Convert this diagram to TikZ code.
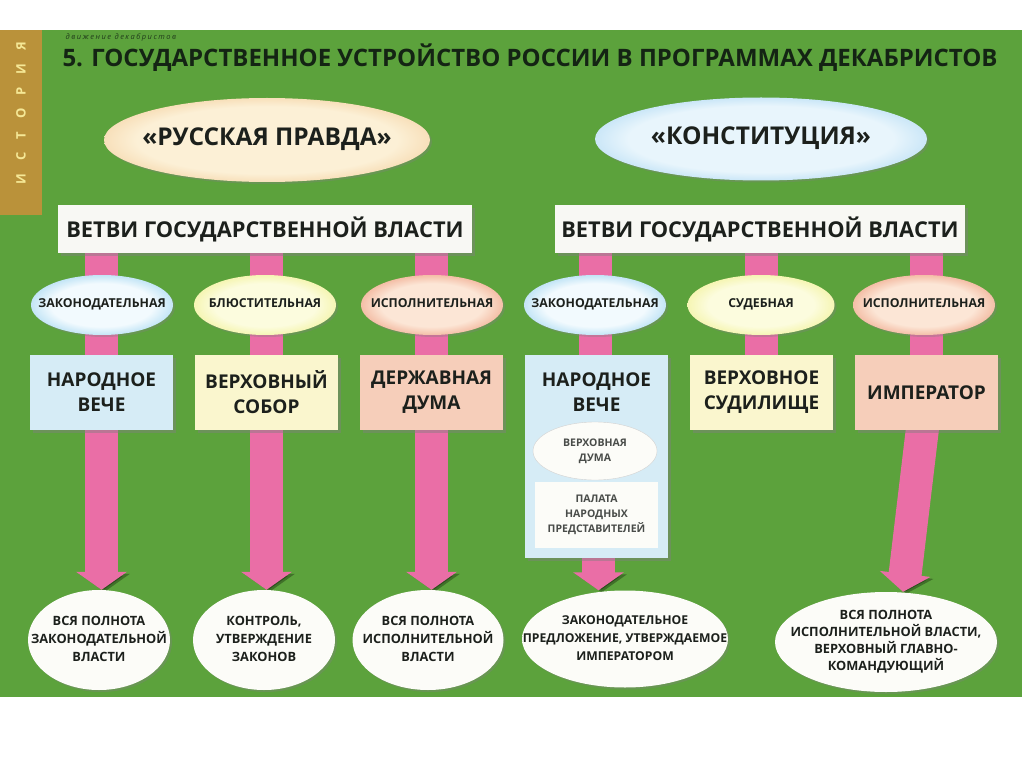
\documentclass[tikz,border=0pt]{standalone}
\usepackage{fontspec}
\setmainfont{Open Sans}
\usetikzlibrary{shapes.geometric,arrows.meta,shadows,calc}
\definecolor{bggreen}{RGB}{92,162,60}
\definecolor{gold}{RGB}{186,146,58}
\definecolor{goldtxt}{RGB}{245,232,150}
\definecolor{ink}{RGB}{28,32,28}
\definecolor{titleink}{RGB}{20,36,20}
\definecolor{barpink}{RGB}{234,110,166}
\definecolor{boxblue}{RGB}{214,236,246}
\definecolor{boxyellow}{RGB}{250,246,206}
\definecolor{boxpeach}{RGB}{246,206,186}
\definecolor{boxwhite}{RGB}{248,248,244}
\definecolor{pravI}{RGB}{252,240,214}
\definecolor{pravO}{RGB}{238,188,126}
\definecolor{konI}{RGB}{232,245,252}
\definecolor{konO}{RGB}{140,200,238}
\definecolor{sbI}{RGB}{242,250,254}
\definecolor{sbO}{RGB}{130,200,235}
\definecolor{syI}{RGB}{252,252,222}
\definecolor{syO}{RGB}{236,236,120}
\definecolor{ssI}{RGB}{252,230,214}
\definecolor{ssO}{RGB}{232,135,100}
\definecolor{swI}{RGB}{252,252,248}
\definecolor{swO}{RGB}{222,224,214}
\pgfdeclareradialshading{shprav}{\pgfpointorigin}{color(0bp)=(pravI); color(20bp)=(pravI); color(36bp)=(pravO); color(50bp)=(pravO)}
\pgfdeclareradialshading{shkon}{\pgfpointorigin}{color(0bp)=(konI); color(20bp)=(konI); color(36bp)=(konO); color(50bp)=(konO)}
\pgfdeclareradialshading{shblue}{\pgfpointorigin}{color(0bp)=(sbI); color(18bp)=(sbI); color(35bp)=(sbO); color(50bp)=(sbO)}
\pgfdeclareradialshading{shyel}{\pgfpointorigin}{color(0bp)=(syI); color(18bp)=(syI); color(35bp)=(syO); color(50bp)=(syO)}
\pgfdeclareradialshading{shsal}{\pgfpointorigin}{color(0bp)=(ssI); color(18bp)=(ssI); color(35bp)=(ssO); color(50bp)=(ssO)}
\pgfdeclareradialshading{shwhite}{\pgfpointorigin}{color(0bp)=(swI); color(25bp)=(swI); color(36bp)=(swO); color(50bp)=(swO)}
\newcommand\fsz[2]{\fontsize{#1}{#2}\selectfont}
\newcommand\zw[1]{\makebox[0pt]{\begin{tabular}{@{}c@{}}#1\end{tabular}}}
\pgfdeclarelayer{bg}
\pgfdeclarelayer{mid}
\pgfsetlayers{bg,mid,main}
\begin{document}
\begin{tikzpicture}[x=1pt,y=-1pt,
  oval/.style={ellipse, inner sep=0pt, align=center, text=ink, font=\bfseries,
    drop shadow={shadow xshift=2pt, shadow yshift=-2pt, opacity=.35}},
  box/.style={rectangle, inner sep=0pt, align=center, text=ink, font=\bfseries,
    drop shadow={shadow xshift=3pt, shadow yshift=-3pt, opacity=.45}},
  branch/.style={oval, minimum width=142pt, minimum height=60pt, font=\bfseries\fsz{12.3}{13}},
  organ/.style={box, minimum width=143pt, minimum height=75pt, font=\bfseries\fsz{19}{25}},
  result/.style={oval, minimum height=100pt, shading=shwhite, font=\bfseries\fsz{12.8}{18}},
  plainbar/.style={line width=33pt, draw=barpink,
    preaction={draw=black, opacity=.3, transform canvas={shift={(3pt,-2pt)}}}},
  arrowbar/.style={plainbar, -{Triangle[width=50pt,length=18pt]}}
]
\useasboundingbox (0,0) rectangle (1024,767);
\begin{pgfonlayer}{bg}
  \fill[white] (0,0) rectangle (1024,767);
  \fill[bggreen] (0,30) rectangle (1022,697);
  \fill[gold] (0,30) rectangle (42,215);
\end{pgfonlayer}

% header
\node[rotate=90, text=goldtxt, font=\bfseries\fsz{13}{15}\addfontfeatures{LetterSpace=100}] (ist) at (21,113) {ИСТОРИЯ};
\node[anchor=west, text=titleink!80!bggreen, font=\itshape\fsz{7.5}{9}\addfontfeatures{LetterSpace=20}] (sub) at (62,38) {движение декабристов};
\node[anchor=west, text=titleink, font=\bfseries\fsz{24}{30}] (title) at (59,58) {5. ГОСУДАРСТВЕННОЕ УСТРОЙСТВО РОССИИ В ПРОГРАММАХ ДЕКАБРИСТОВ};

% programmes
\node[oval, shading=shprav, minimum width=326pt, minimum height=84pt, font=\bfseries\fsz{24.5}{25}] (prav) at (267,140) {\zw{«РУССКАЯ ПРАВДА»}};
\node[oval, shading=shkon, minimum width=332pt, minimum height=83pt, font=\bfseries\fsz{24.5}{25}] (kon) at (761,139) {\zw{«КОНСТИТУЦИЯ»}};

\node[box, fill=boxwhite, minimum width=414pt, minimum height=48pt, font=\bfseries\fsz{21.8}{23}] (vetL) at (265,229) {ВЕТВИ ГОСУДАРСТВЕННОЙ ВЛАСТИ};
\node[box, fill=boxwhite, minimum width=410pt, minimum height=48pt, font=\bfseries\fsz{21.8}{23}] (vetR) at (760,229) {ВЕТВИ ГОСУДАРСТВЕННОЙ ВЛАСТИ};

% branches
\node[branch, shading=shblue] (zakL) at (102,305) {\zw{ЗАКОНОДАТЕЛЬНАЯ}};
\node[branch, shading=shyel] (bluL) at (265,305) {\zw{БЛЮСТИТЕЛЬНАЯ}};
\node[branch, shading=shsal] (ispL) at (432,305) {\zw{ИСПОЛНИТЕЛЬНАЯ}};
\node[branch, shading=shblue] (zakR) at (595,305) {\zw{ЗАКОНОДАТЕЛЬНАЯ}};
\node[branch, shading=shyel, minimum width=147pt] (sudR) at (761,305) {\zw{СУДЕБНАЯ}};
\node[branch, shading=shsal] (ispR) at (924,305) {\zw{ИСПОЛНИТЕЛЬНАЯ}};

% organs
\node[organ, fill=boxblue] (veceL) at (101.5,392.5) {НАРОДНОЕ\\ВЕЧЕ};
\node[organ, fill=boxyellow] (soborL) at (266.5,392.5) {ВЕРХОВНЫЙ\\СОБОР};
\node[organ, fill=boxpeach] (dumaL) at (431.5,392.5) {ДЕРЖАВНАЯ\\ДУМА};
\node[box, fill=boxblue, minimum width=143pt, minimum height=203pt] (veceR) at (596.5,456.5) {};
\node[text=ink, font=\bfseries\fsz{19}{25}, align=center] (veceRt) at (596.5,392.5) {НАРОДНОЕ\\ВЕЧЕ};
\node[organ, fill=boxyellow] (sudil) at (761.5,392.5) {ВЕРХОВНОЕ\\СУДИЛИЩЕ};
\node[organ, fill=boxpeach] (imp) at (926.5,392.5) {ИМПЕРАТОР};

\node[ellipse, inner sep=0pt, shading=shwhite, draw=gray!35, minimum width=124pt, minimum height=58pt, align=center, text=ink!80, font=\bfseries\fsz{10.5}{15}] (vdum) at (595,451) {\zw{ВЕРХОВНАЯ\\ДУМА}};
\node[rectangle, inner sep=0pt, fill=swI, minimum width=123pt, minimum height=66pt, align=center, text=ink!80, font=\bfseries\fsz{10.5}{15}] (palata) at (596.5,515) {ПАЛАТА\\НАРОДНЫХ\\ПРЕДСТАВИТЕЛЕЙ};

% results
\node[result, minimum width=142pt] (resL1) at (99,640) {\zw{ВСЯ ПОЛНОТА\\ЗАКОНОДАТЕЛЬНОЙ\\ВЛАСТИ}};
\node[result, minimum width=142pt] (resL2) at (264,640) {\zw{КОНТРОЛЬ,\\УТВЕРЖДЕНИЕ\\ЗАКОНОВ}};
\node[result, minimum width=151pt] (resL3) at (428,640) {\zw{ВСЯ ПОЛНОТА\\ИСПОЛНИТЕЛЬНОЙ\\ВЛАСТИ}};
\node[result, minimum width=206pt, minimum height=97pt, font=\bfseries\fsz{12.2}{18}] (resR1) at (625,639) {\zw{ЗАКОНОДАТЕЛЬНОЕ\\ПРЕДЛОЖЕНИЕ, УТВЕРЖДАЕМОЕ\\ИМПЕРАТОРОМ}};
\node[result, minimum width=222pt, font=\bfseries\fsz{12.8}{16.5}] (resR2) at (886,642) {\zw{ВСЯ ПОЛНОТА\\ИСПОЛНИТЕЛЬНОЙ ВЛАСТИ,\\ВЕРХОВНЫЙ ГЛАВНО-\\КОМАНДУЮЩИЙ}};

% connectors (pink bars)
\begin{pgfonlayer}{mid}
  \draw[arrowbar] (vetL.south -| veceL.center) -- (resL1.north -| veceL.center);
  \draw[arrowbar] (vetL.south -| soborL.center) -- (resL2.north -| soborL.center);
  \draw[arrowbar] (vetL.south -| dumaL.center) -- (resL3.north -| dumaL.center);
  \draw[plainbar] (vetR.south -| zakR.center) -- (veceR.north -| zakR.center);
  \draw[plainbar] (vetR.south -| sudil.center) -- (sudil.north);
  \draw[plainbar] (vetR.south -| imp.center) -- (imp.north);
  \draw[arrowbar] ($(veceR.south)+(2,0)$) -- ($(resR1.north -| veceR.south)+(2,0)$);
  \draw[arrowbar] ($(imp.south)+(-4,-2)$) -- ($(resR2.north)+(17,0)$);
\end{pgfonlayer}
\end{tikzpicture}
\end{document}
